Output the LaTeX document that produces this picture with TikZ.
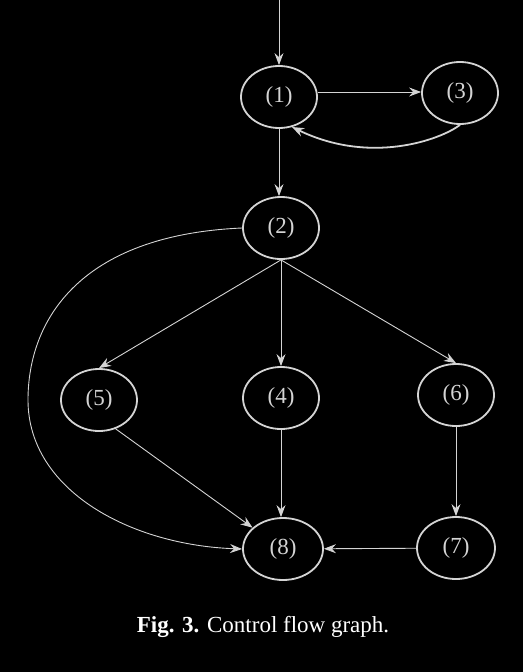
\documentclass[tikz,border=0pt]{standalone}
\usepackage{fontspec}
\setmainfont{Liberation Serif}
\newfontfamily\lblfont{Liberation Serif}
\usetikzlibrary{arrows.meta,shapes.geometric}
\definecolor{ln}{HTML}{D4D4D4}
\begin{document}
\begin{tikzpicture}[x=1pt,y=-1pt,
  nd/.style={draw=ln,line width=1.8pt,ellipse,minimum width=76pt,minimum height=62pt,inner sep=0pt,text=ln,font=\lblfont\fontsize{23}{25}\selectfont},
  ar/.style={draw=ln,line width=0.9pt,-{Stealth[length=12pt,width=9pt,inset=4pt]}}]
\useasboundingbox[fill=black] (0,0) rectangle (523,672);
\node[nd] (n1) at (279,97) {(1)};
\node[nd] (n3) at (460,93) {(3)};
\node[nd] (n2) at (281,228) {(2)};
\node[nd] (n5) at (99,400) {(5)};
\node[nd] (n4) at (281,398) {(4)};
\node[nd] (n6) at (456,395) {(6)};
\node[nd,minimum width=80pt] (n8) at (283,549) {(8)};
\node[nd,minimum width=78pt] (n7) at (456,548) {(7)};
\coordinate (top) at (279,0);
\draw[ar] (top) -- (n1);
\draw[ar] (n1.east |- 0,92) -- (n3.west |- 0,92);
\draw[ar,line width=1.8pt] (n3.south) .. controls (440,140) and (370,165) .. (292,127);
\draw[ar] (n1.south) -- (n1.south |- n2.north);
\draw[ar] (n2.south) -- (n5.north);
\draw[ar] (n2) -- (n4);
\draw[ar] (n2.south) -- (n6.north);
\draw[ar] (n5.-60) -- (n8.145);
\draw[ar] (n4.south) -- (n4.south |- n8.north);
\draw[ar] (n6) -- (n7);
\draw[ar] (n7) -- (n8);
\draw[ar] (n2.west) .. controls (80,235) and (28,320) .. (28,400) .. controls (28,490) and (130,545) .. (n8.west);
\node[text=white,font=\lblfont\fontsize{23}{26}\selectfont] (cap) at (263,627) {\textbf{Fig. 3.} Control flow graph.};
\end{tikzpicture}
\end{document}
